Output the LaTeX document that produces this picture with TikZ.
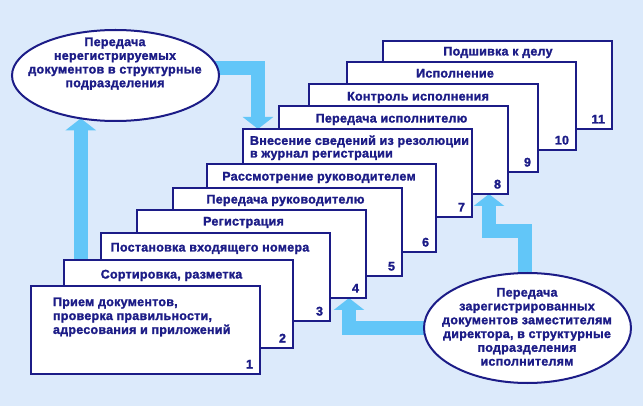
\documentclass[tikz,border=0pt]{standalone}
\usepackage{fontspec}
\setmainfont{Liberation Sans}[LetterSpace=2, BoldFont=Liberation Sans Bold, BoldFeatures={FakeBold=1.6}]
\usetikzlibrary{arrows.meta,shapes.geometric}
\definecolor{navy}{RGB}{28,28,135}
\definecolor{bgblue}{RGB}{220,234,251}
\definecolor{arrblue}{RGB}{98,198,248}
\pgfdeclarelayer{back}
\pgfdeclarelayer{mid}
\pgfsetlayers{back,mid,main}
\begin{document}
\begin{tikzpicture}[x=1pt,y=-1pt,
  stage/.style={draw=navy, line width=2.2pt, fill=white, minimum width=229pt,
    minimum height=88pt, anchor=north west, outer sep=0pt, inner sep=0pt},
  ttl/.style={font=\fontsize{12.5}{14}\selectfont\bfseries, text=navy, inner sep=0pt, outer sep=0pt},
  num/.style={ttl, anchor=base east},
  oval/.style={ellipse, draw=navy, line width=2pt, fill=white, inner sep=0pt, outer sep=0pt},
  bigarrow/.style={draw=arrblue, line width=14pt, line join=miter,
    -{Triangle[width=30pt,length=12pt]}},
]
\begin{pgfonlayer}{back}
\fill[bgblue] (0,0) rectangle (643,406);
\end{pgfonlayer}
\useasboundingbox (0,0) rectangle (643,406);

% stages, back to front
\node[stage] (b11) at (383,41) {};
\node[stage] (b10) at (347,62) {};
\node[stage] (b9)  at (309,84) {};
\node[stage] (b8)  at (279,106) {};
\node[stage] (b7)  at (243,129) {};
\node[stage] (b6)  at (207,164) {};
\node[stage] (b5)  at (173,188) {};
\node[stage] (b4)  at (137,210) {};
\node[stage] (b3)  at (101,233) {};
\node[stage] (b2)  at (64,260) {};
\node[stage] (b1)  at (31,286) {};

% titles
\node[ttl, anchor=base] (t11) at (498,55.5)  {Подшивка к делу};
\node[ttl, anchor=base] (t10) at (455,77.5)  {Исполнение};
\node[ttl, anchor=base] (t9)  at (418,100.5) {Контроль исполнения};
\node[ttl, anchor=base] (t8)  at (391.5,122.5) {Передача исполнителю};
\node[ttl, anchor=north west, align=left, font=\fontsize{12.5}{12.7}\selectfont\bfseries] (t7) at (250,135.5)
  {Внесение сведений из резолюции\\в журнал регистрации};
\node[ttl, anchor=base] (t6)  at (319,180.5) {Рассмотрение руководителем};
\node[ttl, anchor=base] (t5)  at (285.5,203.5) {Передача руководителю};
\node[ttl, anchor=base] (t4)  at (243.5,225.5) {Регистрация};
\node[ttl, anchor=base] (t3)  at (210,251.5) {Постановка входящего номера};
\node[ttl, anchor=base] (t2)  at (171.5,278.5) {Сортировка, разметка};
\node[ttl, anchor=north west, align=left, font=\fontsize{12.5}{13.9}\selectfont\bfseries] (t1) at (53,297.5)
  {Прием документов,\\проверка правильности,\\адресования и приложений};

% numbers
\foreach \k in {1,...,11}{
  \node[num] (n\k) at ([xshift=-7pt,yshift=5.5pt]b\k.south east) {\k};
}

% ellipses
\node[oval, minimum width=207pt, minimum height=91pt] (e1) at (115.5,75.5) {};
\node[ttl, anchor=north, align=center, font=\fontsize{12.5}{13.7}\selectfont\bfseries] (e1t) at (115,37.5)
  {Передача\\нерегистрируемых\\документов в структурные\\подразделения};
\node[oval, minimum width=207pt, minimum height=110pt] (e2) at (527.5,328) {};
\node[ttl, anchor=north, align=center, font=\fontsize{12.5}{13.8}\selectfont\bfseries] (e2t) at (527,288)
  {Передача\\зарегистрированных\\документов заместителям\\директора, в структурные\\подразделения\\исполнителям};

% arrows (behind stages and ellipses)
\begin{pgfonlayer}{mid}
\draw[bigarrow] (e1.231 |- b2.north) -- (e1.231);
\draw[bigarrow] ([yshift=7pt]e1.center) -| ([xshift=15pt]b7.north west);
\draw[bigarrow] (e2.center) -| ([xshift=-17pt]b4.south east);
\draw[bigarrow] ([xshift=-3pt]e2.center) |- ([xshift=-19pt,yshift=-37pt]b8.south east)
  -- ([xshift=-19pt]b8.south east);
\end{pgfonlayer}
\end{tikzpicture}
\end{document}
